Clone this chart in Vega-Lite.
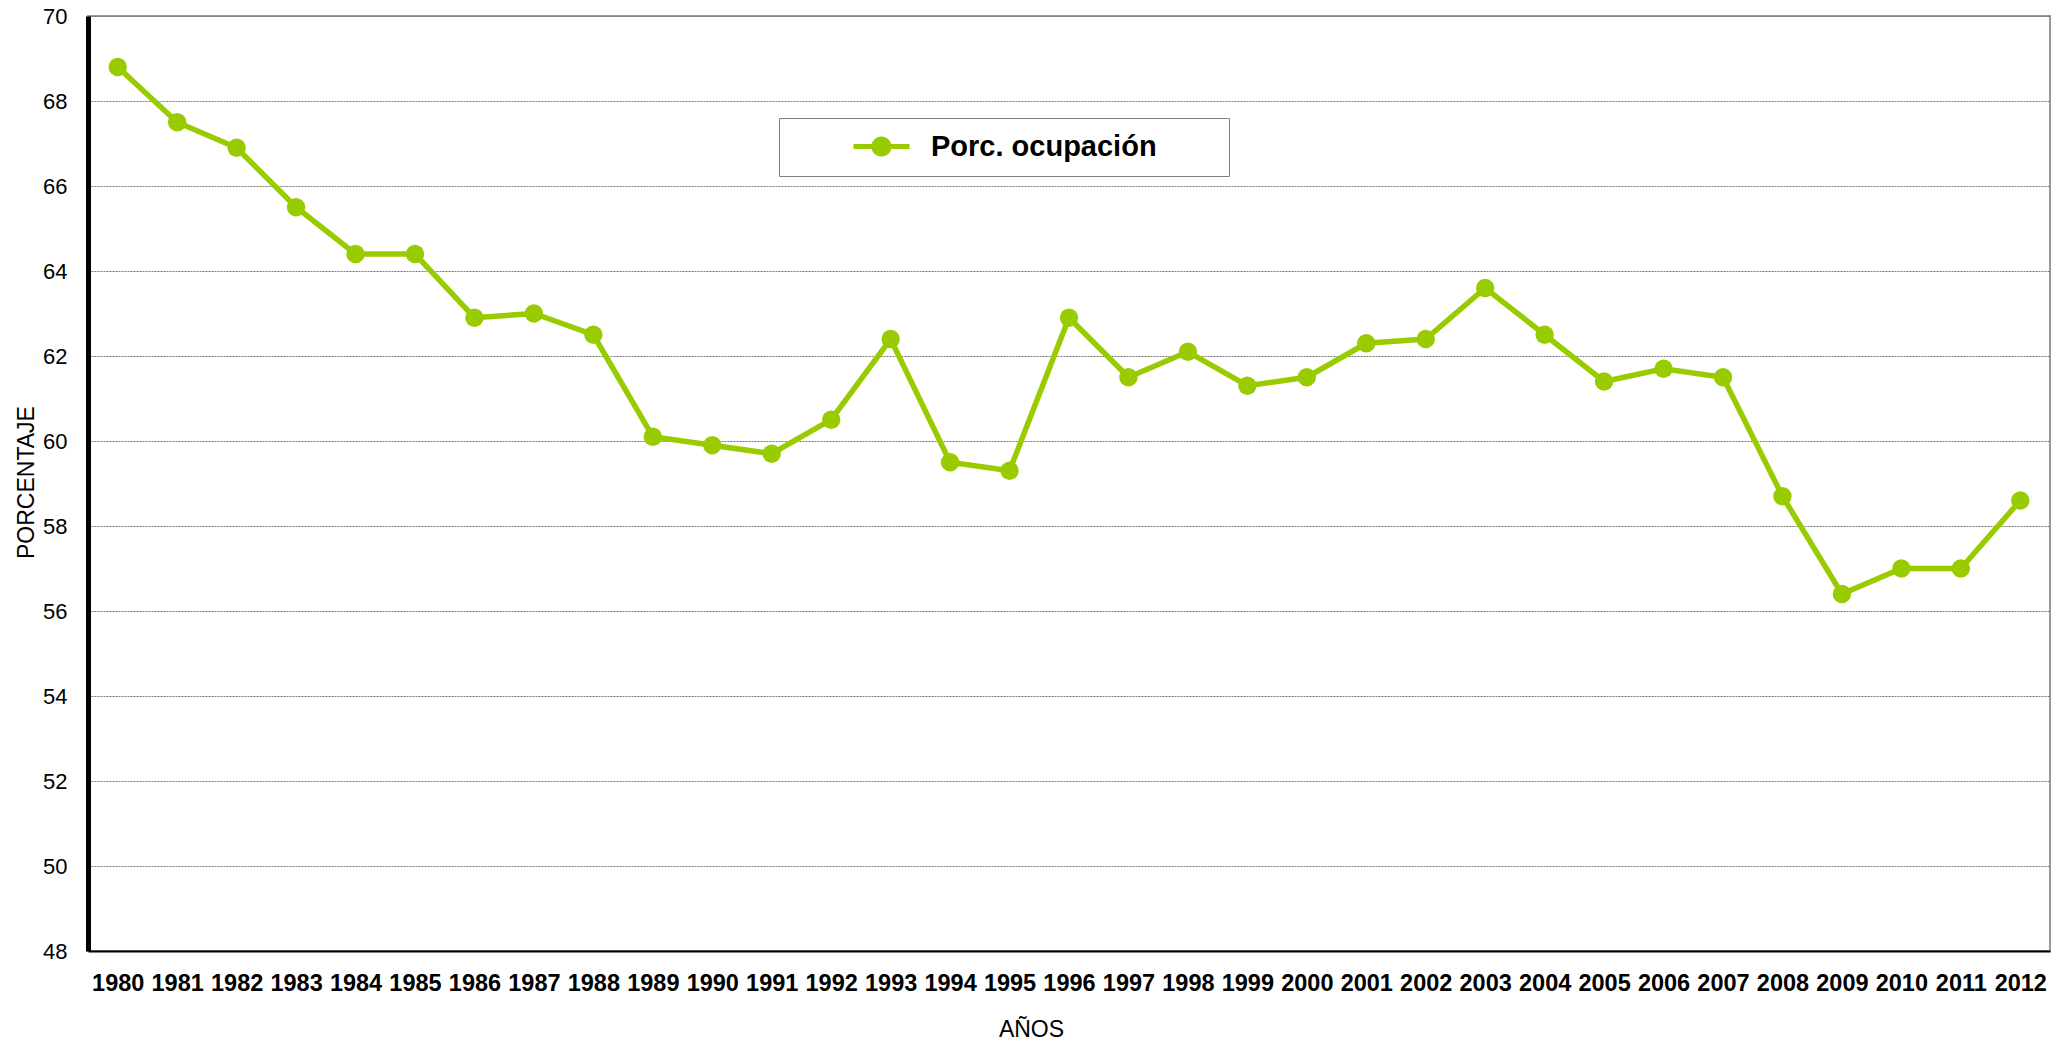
{
  "$schema": "https://vega.github.io/schema/vega-lite/v6.json",
  "width": 1962,
  "height": 935,
  "autosize": {"type": "none"},
  "padding": {"left": 88, "top": 16, "right": 21, "bottom": 93},
  "background": "white",
  "config": {
    "view": {"stroke": "#999999", "strokeWidth": 2},
    "font": "Liberation Sans"
  },
  "data": {
    "values": [
      {"anio": "1980", "porcentaje": 68.8},
      {"anio": "1981", "porcentaje": 67.5},
      {"anio": "1982", "porcentaje": 66.9},
      {"anio": "1983", "porcentaje": 65.5},
      {"anio": "1984", "porcentaje": 64.4},
      {"anio": "1985", "porcentaje": 64.4},
      {"anio": "1986", "porcentaje": 62.9},
      {"anio": "1987", "porcentaje": 63.0},
      {"anio": "1988", "porcentaje": 62.5},
      {"anio": "1989", "porcentaje": 60.1},
      {"anio": "1990", "porcentaje": 59.9},
      {"anio": "1991", "porcentaje": 59.7},
      {"anio": "1992", "porcentaje": 60.5},
      {"anio": "1993", "porcentaje": 62.4},
      {"anio": "1994", "porcentaje": 59.5},
      {"anio": "1995", "porcentaje": 59.3},
      {"anio": "1996", "porcentaje": 62.9},
      {"anio": "1997", "porcentaje": 61.5},
      {"anio": "1998", "porcentaje": 62.1},
      {"anio": "1999", "porcentaje": 61.3},
      {"anio": "2000", "porcentaje": 61.5},
      {"anio": "2001", "porcentaje": 62.3},
      {"anio": "2002", "porcentaje": 62.4},
      {"anio": "2003", "porcentaje": 63.6},
      {"anio": "2004", "porcentaje": 62.5},
      {"anio": "2005", "porcentaje": 61.4},
      {"anio": "2006", "porcentaje": 61.7},
      {"anio": "2007", "porcentaje": 61.5},
      {"anio": "2008", "porcentaje": 58.7},
      {"anio": "2009", "porcentaje": 56.4},
      {"anio": "2010", "porcentaje": 57.0},
      {"anio": "2011", "porcentaje": 57.0},
      {"anio": "2012", "porcentaje": 58.6}
    ]
  },
  "encoding": {
    "x": {
      "field": "anio",
      "type": "ordinal",
      "scale": {"type": "point", "padding": 0.5},
      "axis": {
        "title": "AÑOS",
        "labelAngle": 0,
        "labelFont": "Liberation Sans",
        "labelFontSize": 23.5,
        "labelFontWeight": "bold",
        "labelColor": "#000000",
        "labelBaseline": "alphabetic",
        "labelPadding": 39,
        "ticks": false,
        "grid": false,
        "domainColor": "#000000",
        "domainWidth": 2,
        "titleFont": "Liberation Sans",
        "titleFontSize": 23,
        "titleFontWeight": "normal",
        "titleColor": "#000000",
        "titleBaseline": "alphabetic",
        "titleX": 943,
        "titleY": 85
      }
    },
    "y": {
      "field": "porcentaje",
      "type": "quantitative",
      "scale": {"domain": [48, 70], "nice": false, "zero": false},
      "axis": {
        "title": "PORCENTAJE",
        "values": [48, 50, 52, 54, 56, 58, 60, 62, 64, 66, 68, 70],
        "labelFont": "Liberation Sans",
        "labelFontSize": 22,
        "labelColor": "#000000",
        "labelPadding": 21,
        "ticks": false,
        "domainColor": "#000000",
        "domainWidth": 5,
        "grid": true,
        "gridColor": "#777777",
        "gridDash": [2, 1],
        "gridWidth": 1,
        "titleFont": "Liberation Sans",
        "titleFontSize": 23,
        "titleFontWeight": "normal",
        "titleColor": "#000000",
        "titleBaseline": "alphabetic",
        "titleX": -55,
        "titleY": 466
      }
    }
  },
  "layer": [
    {
      "mark": {"type": "line", "color": "#99CC00", "strokeWidth": 5.5}
    },
    {
      "mark": {"type": "point", "filled": true, "opacity": 1, "size": 340},
      "encoding": {
        "color": {
          "datum": "Porc. ocupación",
          "scale": {"range": ["#99CC00"]},
          "legend": {
            "orient": "none",
            "legendX": 691,
            "legendY": 102,
            "title": " ",
            "titleOrient": "right",
            "titleFontSize": 1,
            "titlePadding": 58,
            "padding": 14,
            "strokeColor": "#808080",
            "fillColor": "white",
            "labelFont": "Liberation Sans",
            "labelFontSize": 29,
            "labelFontWeight": "bold",
            "labelColor": "#000000",
            "labelLimit": 400,
            "labelOffset": 35,
            "symbolType": "M-2,-0.18L2,-0.18L2,0.18L-2,0.18Z M-0.72,0A0.72,0.72 0 1,1 0.72,0A0.72,0.72 0 1,1 -0.72,0Z",
            "symbolSize": 784,
            "symbolOffset": 74,
            "symbolStrokeWidth": 0,
            "symbolOpacity": 1,
            "symbolFillColor": "#99CC00"
          }
        }
      }
    }
  ]
}
